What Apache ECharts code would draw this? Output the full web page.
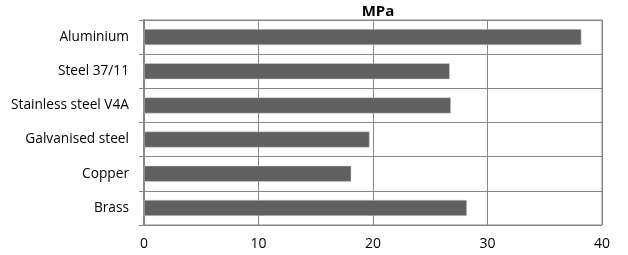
<!DOCTYPE html>
<html>
<head>
<meta charset="utf-8">
<script src="https://cdn.jsdelivr.net/npm/echarts@6/dist/echarts.min.js"></script>
<style>html,body{margin:0;padding:0;background:#fff}#c{width:628px;height:255px}</style>
</head>
<body>
<div id="c"></div>
<script>
const categories = ["Aluminium", "Steel 37/11", "Stainless steel V4A", "Galvanised steel", "Copper", "Brass"];
const values = [38.2, 26.7, 26.8, 19.7, 18.1, 28.2];
const xTicks = { min: 0, max: 40, interval: 10 };
const title = "MPa";

const chart = echarts.init(document.getElementById('c'), null, { renderer: 'canvas' });
const font = "'Open Sans', 'Liberation Sans', sans-serif";
chart.setOption({
  animation: false,
  title: {
    text: title, left: 373, top: -1, textAlign: 'center',
    textStyle: { fontFamily: font, fontSize: 15, fontWeight: 'bold', color: '#000' }
  },
  grid: { left: 144, right: 26, top: 20, bottom: 30, show: true, borderColor: '#868686', borderWidth: 1 },
  xAxis: {
    type: 'value', min: xTicks.min, max: xTicks.max, interval: xTicks.interval,
    axisLine: { show: false }, axisTick: { show: false },
    splitLine: { show: true, lineStyle: { color: '#868686', width: 1 } },
    axisLabel: { fontFamily: font, fontSize: 14, color: '#000', margin: 12 }
  },
  yAxis: {
    type: 'category', data: categories, inverse: true,
    axisLine: { show: true, lineStyle: { color: '#868686', width: 2 } },
    axisTick: { show: true, length: 5, lineStyle: { color: '#868686' } },
    splitLine: { show: true, lineStyle: { color: '#868686', width: 1 } },
    axisLabel: { fontFamily: font, fontSize: 13.7, color: '#000', margin: 15 }
  },
  series: [{
    type: 'bar', data: values, barWidth: 16,
    itemStyle: { color: '#606060', borderColor: '#d0d0d0', borderWidth: 0.5 }
  }]
});
</script>
</body>
</html>
